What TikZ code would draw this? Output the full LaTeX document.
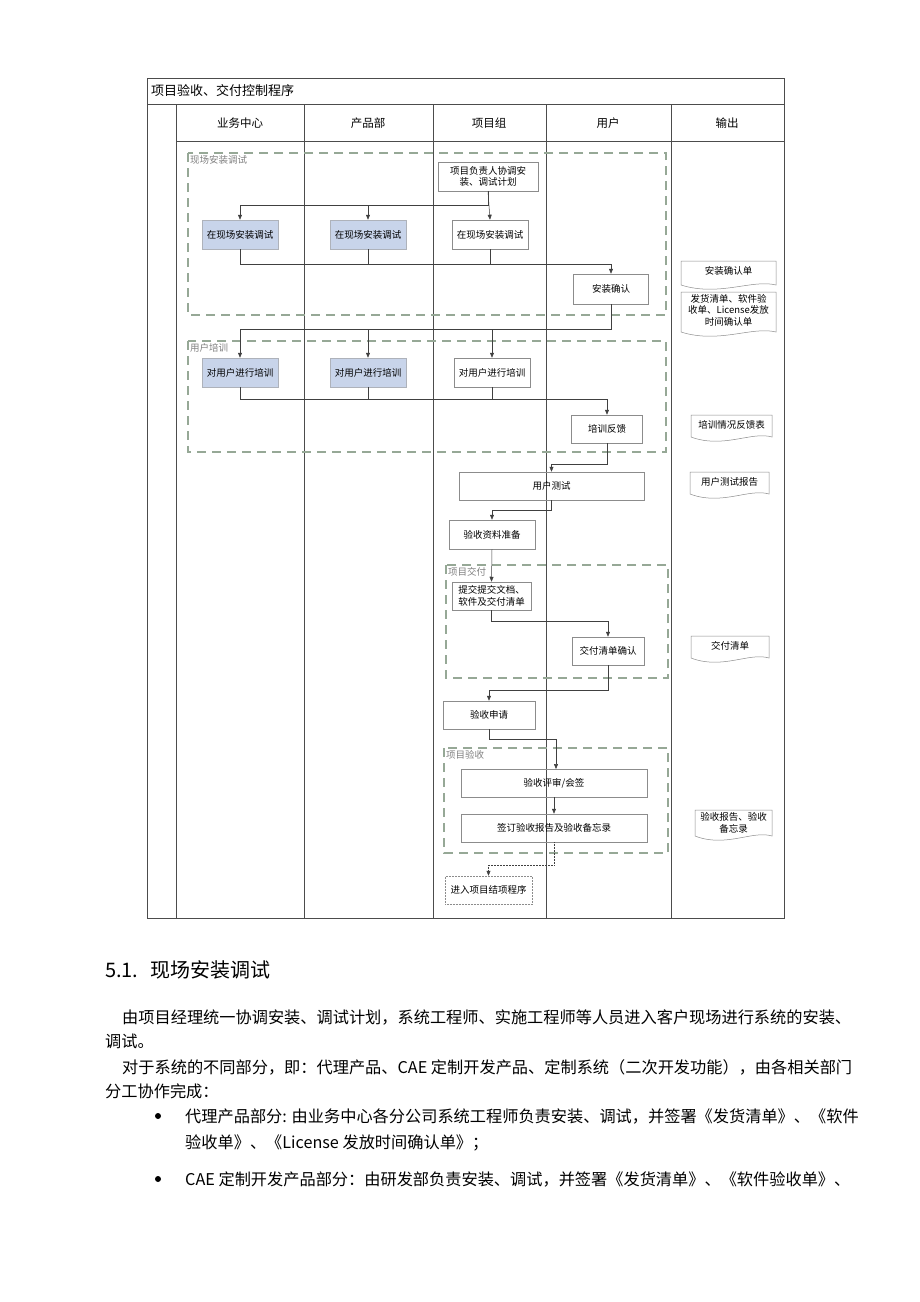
\documentclass[tikz,border=0pt]{standalone}
\usepackage{fontspec}
\setmainfont{Noto Sans CJK SC}
\usetikzlibrary{arrows.meta}
\definecolor{bluefill}{RGB}{200,212,234}
\definecolor{grp}{RGB}{150,168,150}
\definecolor{bx}{RGB}{140,140,140}
\tikzset{
  box/.style={draw=bx, line width=0.5pt, inner sep=1pt, align=center, font=\fontsize{9.5}{11.5}\selectfont},
  bluebox/.style={box, fill=bluefill, draw=bluefill!60!black!60},
  grpbox/.style={draw=grp, line width=1.6pt, dash pattern=on 9pt off 6pt},
  grplabel/.style={anchor=north west, inner sep=1pt, text=gray, font=\fontsize{9.5}{11}\selectfont},
  conn/.style={draw=black!75, line width=0.5pt},
  arr/.style={conn, -{Triangle[length=5pt,width=4pt]}},
  doctext/.style={align=center, inner sep=0pt, font=\fontsize{9.5}{11.5}\selectfont},
  hdr/.style={font=\fontsize{11.5}{13}\selectfont},
  body/.style={anchor=west, inner sep=0pt, font=\fontsize{16.2}{18}\selectfont}
}
\newcommand\docoutline[4]{% x1 y1 x2 y2
  \draw[draw=bx, line width=0.5pt] (#1,#4) -- (#1,#2) -- (#3,#2) -- (#3,#4)
    .. controls ({#3-0.25*(#3-#1)},{#4-6}) and ({#1+0.4*(#3-#1)},{#4+12}) .. (#1,#4);}
\begin{document}
\begin{tikzpicture}[x=1pt,y=-1pt]
\useasboundingbox[fill=white] (0,0) rectangle (920,1302);
% table
\draw[black!70, line width=0.6pt] (147,78) rectangle (784,918);
\draw[black!70, line width=0.6pt] (147,104) -- (784,104);
\draw[black!70, line width=0.6pt] (176,141) -- (784,141);
\foreach \x in {176,304,433,546,671} \draw[black!70, line width=0.6pt] (\x,104) -- (\x,918);
\node[anchor=west, inner sep=0pt, font=\fontsize{13}{14}\selectfont] (title) at (151,91) {项目验收、交付控制程序};
\node[hdr] (h1) at (240,123) {业务中心};
\node[hdr] (h2) at (368,123) {产品部};
\node[hdr] (h3) at (489,123) {项目组};
\node[hdr] (h4) at (608,123) {用户};
\node[hdr] (h5) at (727,123) {输出};
% groups
\draw[grpbox] (188,153) rectangle (666,315);
\node[grplabel] (g1) at (189,154) {现场安装调试};
\draw[grpbox] (188,341) rectangle (666,452);
\node[grplabel] (g2) at (189,342) {用户培训};
\draw[grpbox] (446,565) rectangle (668,678);
\node[grplabel] (g3) at (447,566) {项目交付};
\draw[grpbox] (444,748) rectangle (668,853);
\node[grplabel] (g4) at (445,749) {项目验收};
% boxes
\node[box, minimum width=100pt, minimum height=29pt] (p0) at (488,176.5) {项目负责人协调安\\装、调试计划};
\node[bluebox, minimum width=76pt, minimum height=29pt] (a1) at (240,234.5) {在现场安装调试};
\node[bluebox, minimum width=76pt, minimum height=29pt] (a2) at (368,234.5) {在现场安装调试};
\node[box, minimum width=76pt, minimum height=29pt] (a3) at (490,234.5) {在现场安装调试};
\node[box, minimum width=75pt, minimum height=30pt] (c1) at (611,289) {安装确认};
\node[bluebox, minimum width=76pt, minimum height=29pt] (b1) at (240,372.5) {对用户进行培训};
\node[bluebox, minimum width=76pt, minimum height=29pt] (b2) at (368,372.5) {对用户进行培训};
\node[box, minimum width=76pt, minimum height=29pt] (b3) at (492,372.5) {对用户进行培训};
\node[box, minimum width=71pt, minimum height=28pt] (c2) at (607,429) {培训反馈};
\node[box, minimum width=185pt, minimum height=28pt] (t1) at (551.5,486) {用户测试};
\node[box, minimum width=86pt, minimum height=29pt] (t2) at (492,534.5) {验收资料准备};
\node[box, minimum width=79pt, minimum height=28pt] (t3) at (491.5,596) {提交提交文档、\\软件及交付清单};
\node[box, minimum width=72pt, minimum height=28pt] (t4) at (608,651) {交付清单确认};
\node[box, minimum width=92pt, minimum height=28pt] (t5) at (489,715) {验收申请};
\node[box, minimum width=186pt, minimum height=28pt] (t6) at (554,783) {验收评审/会签};
\node[box, minimum width=186pt, minimum height=28pt] (t7) at (554,828) {签订验收报告及验收备忘录};
\node[box, densely dotted, minimum width=87pt, minimum height=28pt] (t8) at (488.5,890) {进入项目结项程序};
% output documents
\docoutline{681}{261}{776}{285}
\node[doctext] (o1) at (728.5,271) {安装确认单};
\docoutline{681}{292}{776}{332}
\node[doctext] (o2) at (728.5,310) {发货清单、软件验\\收单、License发放\\时间确认单};
\docoutline{691}{415}{772}{437}
\node[doctext] (o3) at (731.5,425) {培训情况反馈表};
\docoutline{690}{472}{769}{494}
\node[doctext] (o4) at (729.5,482) {用户测试报告};
\docoutline{691}{636}{769}{658}
\node[doctext] (o5) at (730,646) {交付清单};
\docoutline{695}{810}{772}{836}
\node[doctext] (o6) at (733.5,823) {验收报告、验收\\备忘录};
% connectors
\draw[conn] (p0.south) -- (488,205) -- (240,205);
\draw[arr] (240,205) -- (a1.north);
\draw[arr] (368,205) -- (a2.north);
\draw[arr] (p0.south) -- (a3.north);
\draw[conn] (a1.south) -- (240,264) -- (611,264);
\draw[conn] (a2.south) -- (368,264);
\draw[conn] (a3.south) -- (490,264);
\draw[arr] (611,264) -- (c1.north);
\draw[conn] (c1.south) -- (611,329) -- (240,329);
\draw[arr] (240,329) -- (b1.north);
\draw[arr] (368,329) -- (b2.north);
\draw[arr] (492,329) -- (b3.north);
\draw[conn] (b1.south) -- (240,399) -- (607,399);
\draw[conn] (b2.south) -- (368,399);
\draw[conn] (b3.south) -- (492,399);
\draw[arr] (607,399) -- (c2.north);
\draw[conn] (c2.south) -- (607,464) -- (551.5,464);
\draw[arr] (551.5,464) -- (t1.north);
\draw[conn] (t1.south) -- (551.5,510) -- (492,510);
\draw[arr] (492,510) -- (t2.north);
\draw[arr] (t2.south) -- (t3.north);
\draw[conn] (t3.south) -- (491.5,621) -- (608,621);
\draw[arr] (608,621) -- (t4.north);
\draw[conn] (t4.south) -- (608,690) -- (489,690);
\draw[arr] (489,690) -- (t5.north);
\draw[conn] (t5.south) -- (489,739) -- (556,739);
\draw[arr] (556,739) -- (556,769);
\draw[arr] (t6.south) -- (t7.north);
\draw[conn, densely dotted] (t7.south) -- (554,865) -- (488.5,865);
\draw[arr, densely dotted] (488.5,865) -- (t8.north);
% body text
\node[anchor=west, inner sep=0pt, font=\fontsize{20}{22}\selectfont] (sec) at (105,970) {5.1.\hspace{12pt}现场安装调试};
\node[body] (l1) at (122,1017) {由项目经理统一协调安装、调试计划，系统工程师、实施工程师等人员进入客户现场进行系统的安装、};
\node[body] (l2) at (105,1041) {调试。};
\node[body] (l3) at (122,1067) {对于系统的不同部分，即：代理产品、CAE 定制开发产品、定制系统（二次开发功能），由各相关部门};
\node[body] (l4) at (105,1091) {分工协作完成：};
\fill (158,1116) circle (3pt);
\node[body] (l5) at (185,1116) {代理产品部分: 由业务中心各分公司系统工程师负责安装、调试，并签署《发货清单》、《软件};
\node[body] (l6) at (185,1143) {验收单》、《License 发放时间确认单》；};
\fill (158,1179) circle (3pt);
\node[body] (l7) at (185,1179) {CAE 定制开发产品部分：由研发部负责安装、调试，并签署《发货清单》、《软件验收单》、};
\end{tikzpicture}
\end{document}
